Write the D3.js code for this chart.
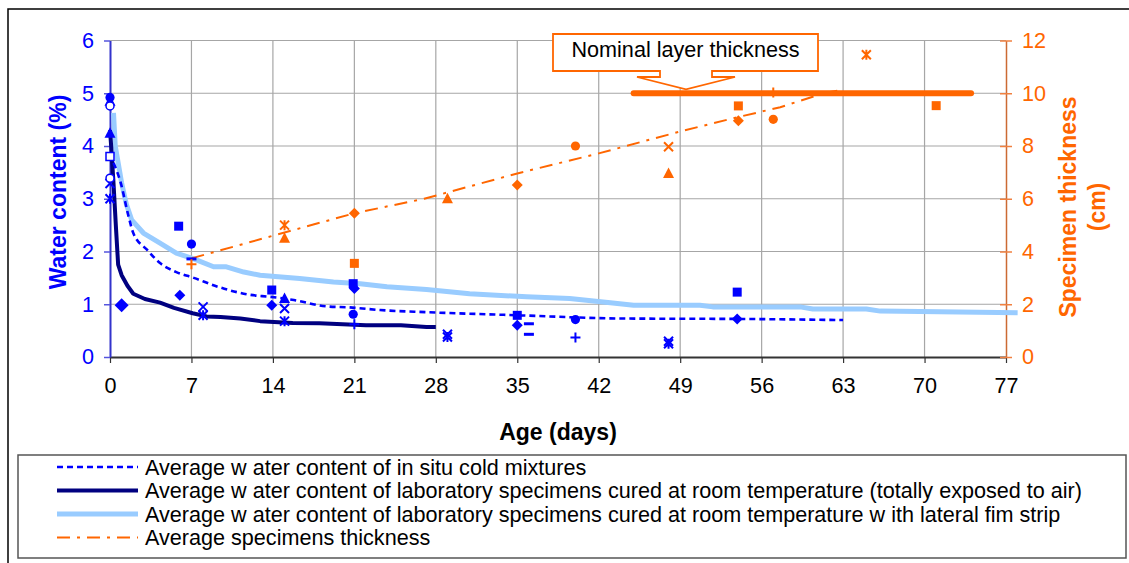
<!DOCTYPE html>
<html><head><meta charset="utf-8">
<script src="https://cdn.jsdelivr.net/npm/d3@7"></script>
<style>body{margin:0;background:#fff}svg{display:block}text{font-family:"Liberation Sans",Arial,sans-serif}</style>
</head><body><svg id="c" width="1129" height="563"></svg>
<script>
// ---------- DATA ----------
const xTicks = [0, 7, 14, 21, 28, 35, 42, 49, 56, 63, 70, 77];
const yLeftTicks = [0, 1, 2, 3, 4, 5, 6];
const yRightTicks = [0, 2, 4, 6, 8, 10, 12];

// Average water content of in situ cold mixtures (dotted)
const insituDays  = [0.3, 0.9, 1.6, 2.0, 3.2, 4.3, 5.7, 7.2, 9.3, 12, 13.8, 15.8, 18.6, 20.6, 23.2, 27.2, 35.2, 43.8, 55, 63];
const insituWater = [3.68, 3.32, 2.66, 2.35, 2.03, 1.78, 1.61, 1.5, 1.33, 1.18, 1.14, 1.08, 0.96, 0.94, 0.89, 0.85, 0.79, 0.73, 0.72, 0.70];

// Lab specimens totally exposed to air (navy)
const exposedDays  = [0, 0.1, 0.3, 0.5, 0.7, 1.0, 1.5, 2.0, 3.0, 4.3, 5.5, 7.1, 8.3, 9.5, 11.2, 12.9, 15.7, 18, 22, 25, 27.2, 28];
const exposedWater = [4.3, 4.0, 3.3, 2.5, 1.75, 1.55, 1.35, 1.2, 1.1, 1.03, 0.93, 0.83, 0.77, 0.76, 0.73, 0.68, 0.645, 0.64, 0.60, 0.60, 0.57, 0.57];

// Lab specimens with lateral film strip (light blue)
const filmDays  = [0.3, 0.45, 1.0, 1.4, 1.86, 2.87, 4.3, 5.7, 7.2, 8.9, 10, 11.5, 12.9, 16.3, 19.2, 21.5, 23.8, 27.2, 30.9, 35.8, 39.5, 43, 45, 50.7, 51.8, 59.3, 60.4, 65, 66.2, 78];
const filmWater = [4.63, 4.0, 3.3, 2.9, 2.6, 2.35, 2.16, 1.97, 1.86, 1.71, 1.71, 1.61, 1.55, 1.49, 1.42, 1.39, 1.33, 1.28, 1.2, 1.14, 1.11, 1.03, 0.98, 0.98, 0.95, 0.95, 0.91, 0.91, 0.87, 0.84];

// Average specimens thickness (orange dash-dot, right axis)
const thickDays = [7, 15, 21, 27, 35, 42, 49, 54, 57.6, 61.3, 62.5];
const thickAvg  = [3.74, 4.72, 5.45, 6.0, 6.96, 7.72, 8.55, 9.1, 9.47, 10.0, 10.1];

// Nominal layer thickness
const nominalDays = [45, 74];
const nominalValue = 10;

// Individual water content measurements (left axis)
const waterSquares    = [[5.9, 2.48], [13.9, 1.27], [20.9, 1.39], [35, 0.79], [53.9, 1.23]];
const waterCircles    = [[0, 4.92], [7, 2.14], [20.9, 0.81], [40, 0.71]];
const waterDiamonds   = [[6, 1.17], [13.9, 0.98], [21, 1.30], [35, 0.60], [53.9, 0.72]];
const waterTriangles  = [[0, 4.85], [0, 4.24], [15, 1.11]];
const waterCrosses    = [[0, 3.29], [8, 0.95], [15, 0.92], [29, 0.43], [48, 0.30]];
const waterStars      = [[0, 3.0], [8, 0.79], [15, 0.68], [29, 0.38], [48, 0.25]];
const waterPluses     = [[21, 0.62], [40, 0.37]];
const waterDashes     = [[7, 1.86], [36, 0.63], [36, 0.43]];
const waterOpenSquare = [[0, 3.8]];
const waterOpenCircle = [[0, 3.39], [0, 4.76]];
const waterBigDiamond = [[1, 0.98]];

// Individual thickness measurements (right axis)
const thickSquares   = [[21, 3.55], [54, 9.52], [71, 9.53]];
const thickCircles   = [[40, 8.0], [57, 9.01]];
const thickDiamonds  = [[21, 5.45], [35, 6.52], [54, 8.96]];
const thickTriangles = [[15, 4.5], [29, 6.0], [48, 6.96]];
const thickCrosses   = [[48, 7.97]];
const thickStars     = [[15, 5.0], [65, 11.46]];
const thickPluses    = [[7, 3.52], [57, 10.03]];

const legendLabels = [
  "Average w ater content of in situ cold mixtures",
  "Average w ater content of laboratory specimens cured at room temperature (totally exposed to air)",
  "Average w ater content of laboratory specimens cured at room temperature w ith lateral fim strip",
  "Average specimens thickness"
];

// ---------- CHART ----------
const svg = d3.select('#c');
const FONT = 21.6;
const FF = '"Liberation Sans",Arial,sans-serif';
const BLUE = '#0000ff', NAVY = '#000080', LIGHT = '#99ccff', ORANGE = '#ff6600';

const x = d3.scaleLinear().domain([0, 77]).range([110, 1006]);
const yL = d3.scaleLinear().domain([0, 6]).range([357, 40.5]);
const yR = d3.scaleLinear().domain([0, 12]).range([357, 40.5]);

// outer frame
svg.append('rect').attr('x', 8).attr('y', 9).attr('width', 1135).attr('height', 570)
  .attr('fill', 'none').attr('stroke', '#000').attr('stroke-width', 1.5);

// grid
const grid = svg.append('g').attr('stroke', '#a6a6a6').attr('stroke-width', 1.2);
yLeftTicks.filter(d => d > 0).forEach(v => grid.append('line')
  .attr('x1', x(0)).attr('x2', x(77)).attr('y1', yL(v)).attr('y2', yL(v)));
xTicks.filter(d => d > 0 && d < 77).forEach(v => grid.append('line')
  .attr('x1', x(v)).attr('x2', x(v)).attr('y1', yL(0)).attr('y2', yL(6)));

// bottom axis
const ax = svg.append('g').attr('transform', `translate(0,${yL(0)})`)
  .call(d3.axisBottom(x).tickValues(xTicks).tickFormat(d3.format('d')).tickSize(6).tickSizeOuter(0).tickPadding(17));
ax.select('.domain').attr('stroke', '#333').attr('stroke-width', 2);
ax.selectAll('.tick line').attr('stroke', '#333').attr('stroke-width', 1.2);
ax.selectAll('text').attr('font-size', FONT).attr('fill', '#000')
  .attr('font-family', FF).attr('dy', '0.6em');

// left axis
const al = svg.append('g').attr('transform', `translate(${x(0)},0)`)
  .call(d3.axisLeft(yL).tickValues(yLeftTicks).tickFormat(d3.format('d')).tickSize(6).tickSizeOuter(0).tickPadding(10));
al.select('.domain').attr('stroke', '#3333cc').attr('stroke-width', 2);
al.selectAll('.tick line').attr('stroke', '#5555dd').attr('stroke-width', 1.5);
al.selectAll('text').attr('font-size', FONT).attr('fill', BLUE).attr('font-family', FF);

// right axis
const ar = svg.append('g').attr('transform', `translate(${x(77)},0)`)
  .call(d3.axisRight(yR).tickValues(yRightTicks).tickFormat(d3.format('d')).tickSizeInner(6).tickSizeOuter(0).tickPadding(10));
ar.select('.domain').attr('stroke', '#cc6a33').attr('stroke-width', 1.5);
ar.selectAll('.tick line').attr('stroke', '#f08040').attr('stroke-width', 1.5).attr('x1', -6);
ar.selectAll('text').attr('font-size', FONT).attr('fill', ORANGE).attr('font-family', FF);

// axis titles
svg.append('text').attr('x', 558).attr('y', 440).attr('text-anchor', 'middle')
  .attr('font-size', 23).attr('font-weight', 'bold').attr('fill', '#000').text('Age (days)');
svg.append('text').attr('transform', `translate(66,192) rotate(-90)`).attr('text-anchor', 'middle')
  .attr('font-size', 23).attr('font-weight', 'bold').attr('fill', BLUE).text('Water content (%)');
const rt = svg.append('text').attr('transform', `translate(1076,207) rotate(-90)`).attr('text-anchor', 'middle')
  .attr('font-size', 23).attr('font-weight', 'bold').attr('fill', ORANGE);
rt.append('tspan').attr('x', 0).attr('y', 0).text('Specimen thickness');
rt.append('tspan').attr('x', 0).attr('y', 29).text('(cm)');

// lines
const lineL = (xs, ys) => d3.line().x((d, i) => x(xs[i])).y((d, i) => yL(ys[i]))(xs);
const lineR = (xs, ys) => d3.line().x((d, i) => x(xs[i])).y((d, i) => yR(ys[i]))(xs);

svg.append('path').attr('d', lineL(filmDays, filmWater)).attr('fill', 'none')
  .attr('stroke', LIGHT).attr('stroke-width', 5).attr('stroke-linejoin', 'round');
svg.append('path').attr('d', lineL(exposedDays, exposedWater)).attr('fill', 'none')
  .attr('stroke', NAVY).attr('stroke-width', 4).attr('stroke-linejoin', 'round');
svg.append('path').attr('d', d3.line().curve(d3.curveMonotoneX).x((d, i) => x(insituDays[i])).y((d, i) => yL(insituWater[i]))(insituDays))
  .attr('fill', 'none').attr('stroke', BLUE).attr('stroke-width', 2.6).attr('stroke-dasharray', '6,4');
svg.append('path').attr('d', lineR(thickDays, thickAvg)).attr('fill', 'none')
  .attr('stroke', ORANGE).attr('stroke-width', 2).attr('stroke-dasharray', '13,7,3,7');

// nominal line
svg.append('line').attr('x1', x(nominalDays[0])).attr('x2', x(nominalDays[1]))
  .attr('y1', yR(nominalValue)).attr('y2', yR(nominalValue))
  .attr('stroke', ORANGE).attr('stroke-width', 6).attr('stroke-linecap', 'round');

// markers
function marker(g, shape, px, py, color) {
  const s = g.append('path').attr('transform', `translate(${px},${py})`);
  let d;
  switch (shape) {
    case 'square': d = 'M-4.5,-4.5H4.5V4.5H-4.5Z'; s.attr('fill', color); break;
    case 'circle': d = 'M4.6,0A4.6,4.6 0 1 1 -4.6,0A4.6,4.6 0 1 1 4.6,0Z'; s.attr('fill', color); break;
    case 'diamond': d = 'M0,-5.5L5.5,0L0,5.5L-5.5,0Z'; s.attr('fill', color); break;
    case 'bigdiamond': d = 'M0,-7L7,0L0,7L-7,0Z'; s.attr('fill', color); break;
    case 'triangle': d = 'M0,-6L5.5,4.5H-5.5Z'; s.attr('fill', color); break;
    case 'cross': d = 'M-4.5,-4.5L4.5,4.5M4.5,-4.5L-4.5,4.5'; s.attr('fill', 'none').attr('stroke', color).attr('stroke-width', 2); break;
    case 'star': d = 'M-4.5,-4.5L4.5,4.5M4.5,-4.5L-4.5,4.5M0,-5V5'; s.attr('fill', 'none').attr('stroke', color).attr('stroke-width', 2); break;
    case 'plus': d = 'M-5,0H5M0,-5V5'; s.attr('fill', 'none').attr('stroke', color).attr('stroke-width', 2); break;
    case 'dash': d = 'M-5,0H5'; s.attr('fill', 'none').attr('stroke', color).attr('stroke-width', 3); break;
    case 'opensquare': d = 'M-4,-4H4V4H-4Z'; s.attr('fill', '#fff').attr('stroke', color).attr('stroke-width', 1.5); break;
    case 'opencircle': d = 'M4,0A4,4 0 1 1 -4,0A4,4 0 1 1 4,0Z'; s.attr('fill', '#fff').attr('stroke', color).attr('stroke-width', 1.5); break;
  }
  s.attr('d', d);
}
const mg = svg.append('g');
const waterSets = [[waterSquares, 'square'], [waterCircles, 'circle'], [waterDiamonds, 'diamond'], [waterTriangles, 'triangle'],
  [waterCrosses, 'cross'], [waterStars, 'star'], [waterPluses, 'plus'], [waterDashes, 'dash'],
  [waterOpenSquare, 'opensquare'], [waterOpenCircle, 'opencircle'], [waterBigDiamond, 'bigdiamond']];
waterSets.forEach(([arr, sh]) => arr.forEach(p => marker(mg, sh, x(p[0]), yL(p[1]), BLUE)));
const thickSets = [[thickSquares, 'square'], [thickCircles, 'circle'], [thickDiamonds, 'diamond'], [thickTriangles, 'triangle'],
  [thickCrosses, 'cross'], [thickStars, 'star'], [thickPluses, 'plus']];
thickSets.forEach(([arr, sh]) => arr.forEach(p => marker(mg, sh, x(p[0]), yR(p[1]), ORANGE)));

// callout
const tipX = x(49.5), tipY = yR(nominalValue) - 4;
const bx0 = tipX - 133, bx1 = tipX + 132, by0 = 34, by1 = 71;
const cp = `M${bx0},${by0}H${bx1}V${by1}H${tipX + 26}V${by1 + 6}H${tipX + 49}L${tipX},${tipY}L${tipX - 49},${by1 + 6}H${tipX - 26}V${by1}H${bx0}Z`;
svg.append('path').attr('d', cp).attr('fill', '#fff').attr('stroke', ORANGE).attr('stroke-width', 1.8);
svg.append('text').attr('x', (bx0 + bx1) / 2).attr('y', 57).attr('text-anchor', 'middle')
  .attr('font-size', FONT).attr('fill', '#000').text('Nominal layer thickness');

// legend
svg.append('rect').attr('x', 18).attr('y', 455).attr('width', 1108).attr('height', 103)
  .attr('fill', '#fff').attr('stroke', '#555').attr('stroke-width', 1.5);
const legStyles = [
  { c: BLUE, w: 2.6, da: '6,4' },
  { c: NAVY, w: 4, da: null },
  { c: LIGHT, w: 5, da: null },
  { c: ORANGE, w: 2, da: '13,7,3,7' }
];
const rowY = [467, 490.5, 514, 537.5];
legendLabels.forEach((t, i) => {
  const l = svg.append('line').attr('x1', 57).attr('x2', 138).attr('y1', rowY[i]).attr('y2', rowY[i])
    .attr('stroke', legStyles[i].c).attr('stroke-width', legStyles[i].w);
  if (legStyles[i].da) l.attr('stroke-dasharray', legStyles[i].da);
  svg.append('text').attr('x', 145).attr('y', rowY[i] + 7.5).attr('font-size', FONT).attr('fill', '#000').text(t);
});
</script></body></html>
